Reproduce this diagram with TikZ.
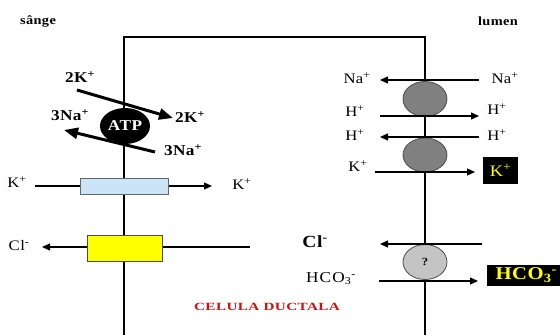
\documentclass[tikz,border=0pt]{standalone}
\usepackage{fontspec}
\setmainfont{Liberation Serif}[FakeStretch=1.15,LetterSpace=3]
\usetikzlibrary{arrows.meta,shapes.geometric}
\definecolor{darkred}{RGB}{200,20,20}
\definecolor{chanblue}{RGB}{204,228,248}
\definecolor{pumpgray}{RGB}{128,128,128}
\definecolor{qgray}{RGB}{196,196,196}
\definecolor{ionyellow}{RGB}{255,255,0}
\newcommand{\ionsup}[1]{\textsuperscript{#1}}
\begin{document}
\begin{tikzpicture}[x=1pt,y=-1pt,
  memb/.style={line width=1.3pt},
  flux/.style={line width=1.2pt,-{Triangle[length=8pt,width=7pt]}},
  atpflux/.style={line width=3pt,-{Triangle[length=14pt,width=11pt]}},
  lab/.style={font=\fontsize{14.5}{14.5}\selectfont,inner sep=0pt},
  blab/.style={font=\fontsize{15}{15}\selectfont\bfseries,inner sep=0pt},
  pump/.style={ellipse,draw=black!70,line width=0.8pt,fill=pumpgray,minimum width=44pt,minimum height=35pt,inner sep=0pt},
  ybox/.style={fill=black,text=ionyellow,inner sep=0pt}]
\useasboundingbox (0,0) rectangle (560,335);
\fill[white] (0,0) rectangle (560,335);
% membranes
\coordinate (lb) at (124,335);
\coordinate (lt) at (124,37);
\coordinate (rt) at (425,37);
\coordinate (rb) at (425,335);
\draw[memb] (lb) -- (lt) -- (rt) -- (rb);
% titles
\node[font=\fontsize{12.5}{12.5}\selectfont\bfseries] (sange) at (38,21) {sânge};
\node[font=\fontsize{12.5}{12.5}\selectfont\bfseries] (lumen) at (498,21) {lumen};
\node[text=darkred,font=\fontsize{11}{11}\selectfont\bfseries] (celula) at (267,307) {\scalebox{1.2}[1]{CELULA DUCTALA}};
% ATP pump
\node[ellipse,fill=black,text=white,minimum width=50pt,minimum height=36pt,inner sep=0pt,font=\fontsize{15}{15}\selectfont\bfseries] (atp) at (125,126) {ATP};
\coordinate (k2a) at (77,90);
\coordinate (k2b) at (173,118);
\coordinate (na3a) at (155,152);
\coordinate (na3b) at (64,130);
\draw[atpflux] (k2a) -- (k2b);
\draw[atpflux] (na3a) -- (na3b);
\node[blab] (k2l) at (80,77) {2K\ionsup{+}};
\node[blab] (k2r) at (190,117) {2K\ionsup{+}};
\node[blab] (na3l) at (70,115) {3Na\ionsup{+}};
\node[blab] (na3r) at (183,150) {3Na\ionsup{+}};
% left K channel
\coordinate (kla) at (35,186);
\coordinate (klb) at (212,186);
\draw[flux] (kla) -- (klb);
\node[draw=black!60,line width=0.8pt,fill=chanblue,minimum width=88pt,minimum height=16pt,inner sep=0pt] (kchan) at (124,186) {};
\node[lab] (kl1) at (17,182) {K\ionsup{+}};
\node[lab] (kl2) at (242,184) {K\ionsup{+}};
% left Cl channel
\coordinate (cla) at (250,247);
\coordinate (clb) at (42,247);
\draw[flux] (cla) -- (clb);
\node[draw=black!70,line width=0.8pt,fill=ionyellow,minimum width=75pt,minimum height=26pt,inner sep=0pt] (clchan) at (124.5,248) {};
\node[lab] (cll) at (19,246) {Cl\ionsup{-}};
% right pumps
\coordinate (naa) at (479,80);
\coordinate (nab) at (380,80);
\coordinate (h1a) at (380,116);
\coordinate (h1b) at (479,116);
\coordinate (h2a) at (479,137);
\coordinate (h2b) at (380,137);
\coordinate (kra) at (375,172);
\coordinate (krb) at (475,172);
\node[pump] (p1) at (425,99) {};
\node[pump,minimum height=34pt] (p2) at (425,155) {};
\draw[flux] (naa) -- (nab);
\draw[flux] (h1a) -- (h1b);
\draw[flux] (h2a) -- (h2b);
\draw[flux] (kra) -- (krb);
\node[lab] (nal) at (357,78) {Na\ionsup{+}};
\node[lab] (nar) at (505,78) {Na\ionsup{+}};
\node[lab] (h1l) at (355,111) {H\ionsup{+}};
\node[lab] (h1r) at (497,109) {H\ionsup{+}};
\node[lab] (h2l) at (355,135) {H\ionsup{+}};
\node[lab] (h2r) at (497,135) {H\ionsup{+}};
\node[lab] (krl) at (358,166) {K\ionsup{+}};
\node[ybox,minimum width=35pt,minimum height=27pt,font=\fontsize{16}{16}\selectfont] (krbox) at (500.5,170.5) {K\ionsup{+}};
% exchanger
\node[ellipse,draw=black!70,line width=0.8pt,fill=qgray,minimum width=44pt,minimum height=35pt,inner sep=0pt,font=\fontsize{11}{11}\selectfont\bfseries] (q) at (425,262) {?};
\coordinate (cra) at (482,244);
\coordinate (crb) at (380,244);
\coordinate (hca) at (379,281);
\coordinate (hcb) at (478,281);
\draw[flux] (cra) -- (crb);
\draw[flux] (hca) -- (hcb);
\node[font=\fontsize{17}{17}\selectfont\bfseries,inner sep=0pt] (crl) at (315,242) {Cl\ionsup{-}};
\node[font=\fontsize{15}{15}\selectfont\addfontfeature{LetterSpace=8},inner sep=0pt] (hcl) at (331,279) {HCO\textsubscript{3}\ionsup{-}};
\node[ybox,minimum width=75pt,minimum height=21pt,anchor=west,font=\fontsize{18}{18}\selectfont\bfseries] (hcbox) at (487,275) {\,HCO\textsubscript{3}\ionsup{-}};
\end{tikzpicture}
\end{document}
